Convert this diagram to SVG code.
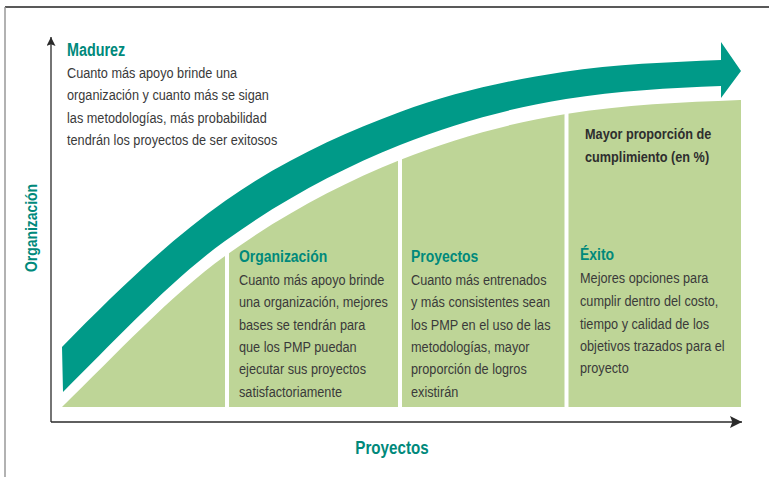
<svg xmlns="http://www.w3.org/2000/svg" width="769" height="477" viewBox="0 0 769 477">
<style>
text{font-family:"Liberation Sans",Arial,sans-serif}
.body{font-size:15.5px;fill:#3a3a3a}
.head{font-weight:bold;font-size:17px;fill:#00897b}
.bold{font-weight:bold;font-size:15.5px;fill:#2e2e2e}
.panel{fill:#bed597}
.axis{stroke:#2a2a2a;stroke-width:1.3;fill:none}
.frame{fill:none;stroke-width:1.5}
</style>
<defs>
<clipPath id="area"><path d="M62,407 C116.3,354.3 170.7,295.1 225,256 C283.3,214 341.7,183.3 400,160 C455.3,137.9 510.7,122.9 566,114 C624,104.7 682,102.3 740,100 L741,100 L741,407 Z"/></clipPath>
<marker id="ahx" viewBox="0 0 10 10" refX="10" refY="5" markerWidth="15" markerHeight="12" markerUnits="userSpaceOnUse" orient="auto"><path d="M0,0 L10,5 L0,10 L2,5 Z" fill="#2a2a2a"/></marker>
<marker id="ahy" viewBox="0 0 10 10" refX="10" refY="5" markerWidth="13" markerHeight="9" markerUnits="userSpaceOnUse" orient="auto"><path d="M0,0 L10,5 L0,10 L2,5 Z" fill="#2a2a2a"/></marker>
</defs>
<rect width="769" height="477" fill="#fff"/>
<g id="frame">
<path class="frame" d="M5,7 H769" stroke="#222"/>
<path class="frame" d="M5,7 V477" stroke="#999"/>
</g>
<g id="panel-base" class="panel" clip-path="url(#area)"><rect x="62" y="90" width="163" height="317"/></g>
<g id="panel-organizacion">
<rect class="panel" x="229" y="90" width="169" height="317" clip-path="url(#area)"/>
<g transform="translate(239,0) scale(0.82,1)">
<text class="head" x="0" y="262">Organización</text>
<text class="body" x="0" y="285">Cuanto más apoyo brinde</text>
<text class="body" x="0" y="307.3">una organización, mejores</text>
<text class="body" x="0" y="329.7">bases se tendrán para</text>
<text class="body" x="0" y="352">que los PMP puedan</text>
<text class="body" x="0" y="374.4">ejecutar sus proyectos</text>
<text class="body" x="0" y="396.7">satisfactoriamente</text>
</g>
</g>
<g id="panel-proyectos">
<rect class="panel" x="402" y="90" width="162.5" height="317" clip-path="url(#area)"/>
<g transform="translate(411,0) scale(0.82,1)">
<text class="head" x="0" y="262">Proyectos</text>
<text class="body" x="0" y="285">Cuanto más entrenados</text>
<text class="body" x="0" y="307.3">y más consistentes sean</text>
<text class="body" x="0" y="329.7">los PMP en el uso de las</text>
<text class="body" x="0" y="352">metodologías, mayor</text>
<text class="body" x="0" y="374.4">proporción de logros</text>
<text class="body" x="0" y="396.7">existirán</text>
</g>
</g>
<g id="panel-exito">
<rect class="panel" x="568.5" y="90" width="172.5" height="317" clip-path="url(#area)"/>
<g transform="translate(585,0) scale(0.82,1)">
<text class="bold" x="0" y="139">Mayor proporción de</text>
<text class="bold" x="0" y="162">cumplimiento (en %)</text>
</g>
<g transform="translate(580,0) scale(0.82,1)">
<text class="head" x="0" y="260">Éxito</text>
<text class="body" x="0" y="283.3">Mejores opciones para</text>
<text class="body" x="0" y="306">cumplir dentro del costo,</text>
<text class="body" x="0" y="328.7">tiempo y calidad de los</text>
<text class="body" x="0" y="351.3">objetivos trazados para el</text>
<text class="body" x="0" y="373.5">proyecto</text>
</g>
</g>
<g id="madurez-arrow">
<path fill="#009a88" d="M62,347 C116.3,291.6 170.7,239 225,201 C283.3,160.2 341.7,133.6 400,112 C454.3,91.9 508.7,80.15 563,72 C615.7,64.1 668.3,62.1 721,60 L721,42 L741,71 L721,98 L721,86 C669.3,88.1 617.7,90.7 566,99 C510.7,107.9 455.3,122.9 400,145 C341.7,168.3 283.3,199 225,241 C170.7,280.1 116.3,339.3 63,392 Z"/>
</g>
<g id="madurez">
<g transform="translate(67,0) scale(0.82,1)">
<text class="head" x="0" y="56" style="font-size:17.5px">Madurez</text>
<text class="body" x="0" y="78">Cuanto más apoyo brinde una</text>
<text class="body" x="0" y="100.3">organización y cuanto más se sigan</text>
<text class="body" x="0" y="122.6">las metodologías, más probabilidad</text>
<text class="body" x="0" y="145">tendrán los proyectos de ser exitosos</text>
</g>
</g>
<g id="connectors">
<path class="axis" d="M51,422 H742" marker-end="url(#ahx)"/>
<path class="axis" d="M51,422 V37" marker-end="url(#ahy)"/>
</g>
<g id="axis-labels">
<text class="head" style="font-size:18.5px" transform="translate(392,454) scale(0.82,1)" text-anchor="middle">Proyectos</text>
<text class="head" transform="translate(37,228) rotate(-90) scale(0.82,1)" text-anchor="middle">Organización</text>
</g>
</svg>
